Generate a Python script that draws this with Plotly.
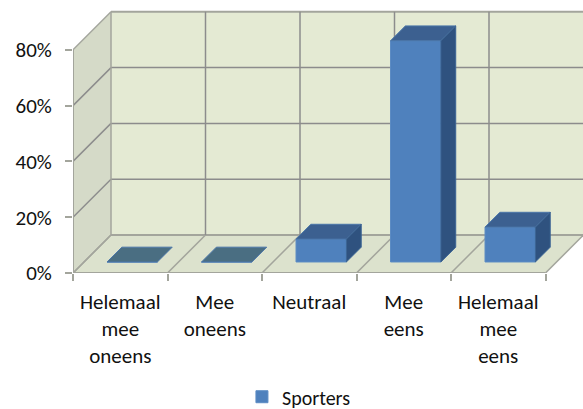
import plotly.graph_objects as go

categories = [["Helemaal", "mee", "oneens"], ["Mee", "oneens"], ["Neutraal"], ["Mee", "eens"], ["Helemaal", "mee", "eens"]]
values = [0, 0, 8.2, 79.3, 12.5]
series_name = "Sporters"
y_ticks = [0, 20, 40, 60, 80]
y_labels = ["0%", "20%", "40%", "60%", "80%"]

W, H = 583, 409
L, T, B = 73, 8, 136
PX_CAT, PX_PCT = 94.5, 2.79
DX, DY = 38 / PX_CAT, 38 / PX_PCT       # wall depth in axis units
XMAX = (W - L) / PX_CAT
YMAX = (H - T - B) / PX_PCT
N = len(categories)
BAR_W = 0.533
D0, D1 = 0.29, 0.68                     # bar depth span as fractions of the floor


def p(x, y, d=0.0):
    return x + d * DX, y + d * DY


def poly(pts):
    return "M" + "L".join(f"{x},{y}" for x, y in pts) + "Z"


EDGE = "#A3A59C"
GRID = "#8C8C8C"
shapes = []
def add_poly(pts, fill):
    shapes.append(dict(type="path", path=poly(pts), xref="x", yref="y", layer="below",
                       fillcolor=fill, line=dict(width=0)))
def add_line(a, b, color=GRID, width=1.5):
    shapes.append(dict(type="line", x0=a[0], y0=a[1], x1=b[0], y1=b[1], xref="x", yref="y",
                       layer="below", line=dict(color=color, width=width)))

top = max(y_ticks)
add_poly([p(0, 0), p(0, 0, 1), p(0, top, 1), p(0, top)], "#D5DAC8")
add_poly([p(0, 0), p(N, 0), p(N, 0, 1), p(0, 0, 1)], "#DCE2CD")
add_poly([p(0, 0, 1), p(N, 0, 1), p(N, top, 1), p(0, top, 1)], "#E4EAD3")
for t in y_ticks:
    edge_line = t in (0, top)
    add_line(p(0, t), p(0, t, 1), EDGE if edge_line else GRID)
    add_line(p(0, t, 1), p(N, t, 1), EDGE if edge_line else GRID, 2 if edge_line else 1.5)
for i in range(N + 1):
    add_line(p(i, 0), p(i, 0, 1), EDGE)
    if i < N:
        add_line(p(i, 0, 1), p(i, top, 1), EDGE if i == 0 else GRID)

traces = []
# front faces: real bars, lifted to the bar's depth on the floor
centres = [i + 0.5 + 0.01 for i in range(N)]
front_x = [c + D0 * DX for c in centres]
traces.append(go.Bar(x=front_x, y=values, base=D0 * DY, width=BAR_W, name=series_name,
                     marker=dict(color="#4F81BD", line=dict(color="#5C8CC4", width=1)),
                     showlegend=True, hoverinfo="skip"))

dd = D1 - D0
for c, v in zip(centres, values):
    x0 = c - BAR_W / 2 + D0 * DX
    x1 = c + BAR_W / 2 + D0 * DX
    y0 = D0 * DY
    yt = v + y0
    ddx, ddy = dd * DX, dd * DY
    top_col = "#3C6090" if v > 0 else "#4A6E82"
    traces.append(go.Scatter(x=[x0, x1, x1 + ddx, x0 + ddx, x0], y=[yt, yt, yt + ddy, yt + ddy, yt],
                             mode="lines", fill="toself", fillcolor=top_col,
                             line=dict(color="#4B76A8", width=1), showlegend=False, hoverinfo="skip"))
    if v > 0:
        traces.append(go.Scatter(x=[x1, x1 + ddx, x1 + ddx, x1, x1], y=[y0, y0 + ddy, yt + ddy, yt, y0],
                                 mode="lines", fill="toself", fillcolor="#2F527F",
                                 line=dict(color="#3C6595", width=1), showlegend=False, hoverinfo="skip"))

# axis lines, drawn from the wall's edges
traces.append(go.Scatter(x=[0, 0], y=[0, top], mode="lines", line=dict(color=EDGE, width=2),
                         cliponaxis=False, showlegend=False, hoverinfo="skip"))
traces.append(go.Scatter(x=[0, N], y=[0, 0], mode="lines", line=dict(color=EDGE, width=2),
                         cliponaxis=False, showlegend=False, hoverinfo="skip"))

FONT = "Carlito, Lato, sans-serif"
FS = 21
LINE_FS = 27 / 1.3  # plotly spaces tick-label lines by 1.3 x the axis tick font
ticktext = ["<br>".join(f"<span style='font-size:{FS}px'>{w}</span>" for w in c) for c in categories]

fig = go.Figure(traces)
fig.update_layout(
    width=W, height=H, autosize=False, paper_bgcolor="white", plot_bgcolor="rgba(0,0,0,0)",
    margin=dict(l=L, r=0, t=T, b=B, pad=0), shapes=shapes, hovermode=False,
    font=dict(family=FONT, size=FS, color="#111111"),
    legend=dict(orientation="h", xref="container", yref="container", x=0.415, y=0.03, xanchor="left",
                yanchor="middle", font=dict(size=FS-1), bgcolor="rgba(0,0,0,0)"),
    xaxis=dict(range=[0, XMAX], tickmode="array", tickvals=[i + 0.5 for i in range(N)], ticktext=ticktext,
               ticks="", tickfont=dict(size=LINE_FS), showgrid=False, zeroline=False, showline=False,
               tickangle=0, ticklabelstandoff=14,
               minor=dict(tickmode="array", tickvals=list(range(N + 1)), ticks="outside", ticklen=7,
                          tickwidth=2, tickcolor=EDGE, showgrid=False)),
    yaxis=dict(range=[0, YMAX], tickmode="array", tickvals=y_ticks, ticktext=y_labels, ticks="outside",
               ticklen=7, tickwidth=2, tickcolor=EDGE, tickfont=dict(size=FS), showgrid=False,
               zeroline=False, showline=False, ticklabelstandoff=9),
)
fig.write_html("out.html", config=dict(displayModeBar=False),
               post_script="document.body.style.margin='0';")
